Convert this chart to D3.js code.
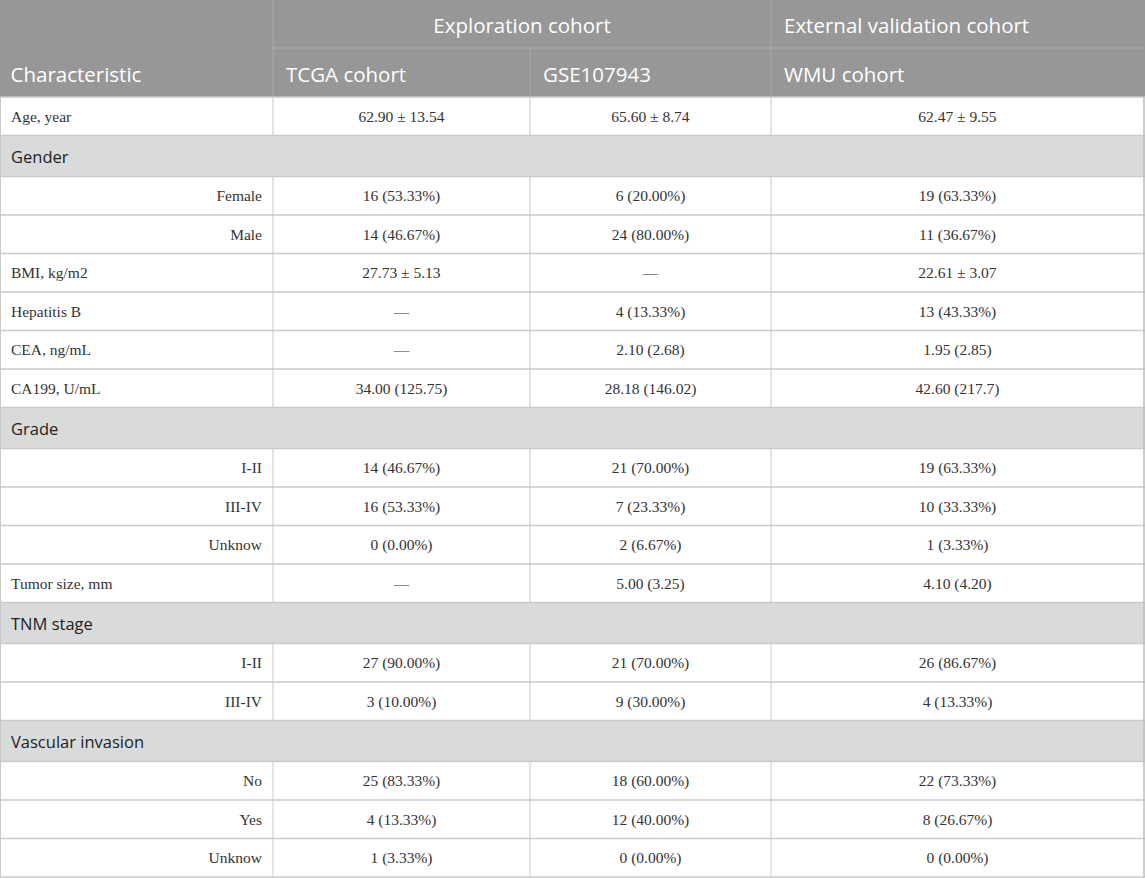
<!DOCTYPE html>
<html>
<head>
  <meta charset="utf-8">
  <script src="https://d3js.org/d3.v7.min.js"></script>
  <style>
  body { margin: 0; background: #ffffff; }
  </style>
</head>
<body>
<div id="chart"></div>
<script>
// table content
const labels = ["Age, year", "Gender", "Female", "Male", "BMI, kg/m2", "Hepatitis B", "CEA, ng/mL",
                "CA199, U/mL", "Grade", "I-II", "III-IV", "Unknow", "Tumor size, mm", "TNM stage",
                "I-II", "III-IV", "Vascular invasion", "No", "Yes", "Unknow"];
// "g" = group heading, "t" = top level item, "s" = sub item
const kinds = ["t", "g", "s", "s", "t", "t", "t", "t", "g", "s", "s", "s", "t", "g", "s", "s", "g", "s", "s", "s"];
const tcga = ["62.90 ± 13.54", "", "16 (53.33%)", "14 (46.67%)", "27.73 ± 5.13", "—", "—", "34.00 (125.75)",
              "", "14 (46.67%)", "16 (53.33%)", "0 (0.00%)", "—", "", "27 (90.00%)", "3 (10.00%)",
              "", "25 (83.33%)", "4 (13.33%)", "1 (3.33%)"];
const gse = ["65.60 ± 8.74", "", "6 (20.00%)", "24 (80.00%)", "—", "4 (13.33%)", "2.10 (2.68)", "28.18 (146.02)",
             "", "21 (70.00%)", "7 (23.33%)", "2 (6.67%)", "5.00 (3.25)", "", "21 (70.00%)", "9 (30.00%)",
             "", "18 (60.00%)", "12 (40.00%)", "0 (0.00%)"];
const wmu = ["62.47 ± 9.55", "", "19 (63.33%)", "11 (36.67%)", "22.61 ± 3.07", "13 (43.33%)", "1.95 (2.85)", "42.60 (217.7)",
             "", "19 (63.33%)", "10 (33.33%)", "1 (3.33%)", "4.10 (4.20)", "", "26 (86.67%)", "4 (13.33%)",
             "", "22 (73.33%)", "8 (26.67%)", "0 (0.00%)"];
const groupHeads = ["Exploration cohort", "External validation cohort"];
const colHeads = ["Characteristic", "TCGA cohort", "GSE107943", "WMU cohort"];

const W = 1145, H = 878;
const colEdges = [0.5, 273, 530, 771, 1144];
const headTop = 0, headMid = 48, headBottom = 97;
const rowH = { g: 41, t: 38.5, s: 38.5 };

const sans = "'Open Sans', 'Noto Sans', sans-serif";
const serif = "'Liberation Serif', 'Times New Roman', serif";
const lineColor = "#c9c9c9";

const svg = d3.select("#chart")
              .append("svg")
              .attr("width", W)
              .attr("height", H);

// row positions from cumulative heights
const heights = kinds.map(k => rowH[k]);
const tops = [0].concat(Array.from(d3.cumsum(heights)));
const y = d3.scaleLinear().domain([0, tops[tops.length - 1]]).range([headBottom, 877]);

// header
svg.append("rect")
   .attr("x", 0).attr("y", headTop)
   .attr("width", W).attr("height", headBottom)
   .attr("fill", "#979797");

svg.append("line")
   .attr("x1", colEdges[1]).attr("x2", colEdges[4])
   .attr("y1", headMid).attr("y2", headMid)
   .attr("stroke", "#a9a9a9").attr("stroke-width", 1);

[colEdges[1], colEdges[3]].forEach(function(x) {
  svg.append("line")
     .attr("x1", x).attr("x2", x)
     .attr("y1", headTop).attr("y2", headBottom)
     .attr("stroke", "#a9a9a9");
});
svg.append("line")
   .attr("x1", colEdges[2]).attr("x2", colEdges[2])
   .attr("y1", headMid).attr("y2", headBottom)
   .attr("stroke", "#a9a9a9");

svg.append("text")
   .attr("x", (colEdges[1] + colEdges[3]) / 2)
   .attr("y", headMid / 2 + 1)
   .attr("text-anchor", "middle")
   .attr("dominant-baseline", "central")
   .attr("fill", "#ffffff")
   .style("font-family", sans)
   .style("font-size", "20.5px")
   .text(groupHeads[0]);

svg.append("text")
   .attr("x", colEdges[3] + 13)
   .attr("y", headMid / 2 + 1)
   .attr("dominant-baseline", "central")
   .attr("fill", "#ffffff")
   .style("font-family", sans)
   .style("font-size", "20.5px")
   .text(groupHeads[1]);

svg.selectAll("text.colhead")
   .data(colHeads)
   .join("text")
   .attr("class", "colhead")
   .attr("x", (d, i) => colEdges[i] + (i == 0 ? 10 : 13))
   .attr("y", (headMid + headBottom) / 2 + 1)
   .attr("dominant-baseline", "central")
   .attr("fill", "#ffffff")
   .style("font-family", sans)
   .style("font-size", "20.5px")
   .text(d => d);

// body rows
const rows = svg.selectAll("g.row")
                .data(labels.map((l, i) => ({ label: l, kind: kinds[i], vals: [tcga[i], gse[i], wmu[i]], i: i })))
                .join("g")
                .attr("class", "row")
                .attr("transform", d => `translate(0,${y(tops[d.i])})`);

rows.append("rect")
    .attr("x", 0)
    .attr("width", W)
    .attr("height", d => y(tops[d.i + 1]) - y(tops[d.i]))
    .attr("fill", d => d.kind == "g" ? "#d9dbdb" : "#ffffff");

rows.append("line")
    .attr("x1", 0).attr("x2", W)
    .attr("y1", 0).attr("y2", 0)
    .attr("stroke", lineColor).attr("stroke-width", 1.5);

rows.filter(d => d.kind != "g")
    .selectAll("line.v")
    .data([colEdges[1], colEdges[2], colEdges[3]])
    .join("line")
    .attr("class", "v")
    .attr("x1", d => d).attr("x2", d => d)
    .attr("y1", 0)
    .attr("y2", function() {
      const r = d3.select(this.parentNode).datum();
      return y(tops[r.i + 1]) - y(tops[r.i]);
    })
    .attr("stroke", lineColor);

rows.append("text")
    .attr("x", d => d.kind == "s" ? colEdges[1] - 11 : 11)
    .attr("y", d => (y(tops[d.i + 1]) - y(tops[d.i])) / 2)
    .attr("text-anchor", d => d.kind == "s" ? "end" : "start")
    .attr("dominant-baseline", "central")
    .attr("fill", d => d.kind == "g" ? "#222222" : "#333333")
    .style("font-family", d => d.kind == "g" ? sans : serif)
    .style("font-size", d => d.kind == "g" ? "16.5px" : "15.5px")
    .text(d => d.label);

rows.filter(d => d.kind != "g")
    .selectAll("text.val")
    .data(d => d.vals)
    .join("text")
    .attr("class", "val")
    .attr("x", (d, j) => (colEdges[j + 1] + colEdges[j + 2]) / 2)
    .attr("y", function() {
      const r = d3.select(this.parentNode).datum();
      return (y(tops[r.i + 1]) - y(tops[r.i])) / 2;
    })
    .attr("text-anchor", "middle")
    .attr("dominant-baseline", "central")
    .attr("fill", "#333333")
    .style("font-family", serif)
    .style("font-size", "15.5px")
    .text(d => d);

// outer frame
svg.append("line")
   .attr("x1", 0).attr("x2", W).attr("y1", 877).attr("y2", 877)
   .attr("stroke", lineColor).attr("stroke-width", 1.5);
svg.append("line")
   .attr("x1", 0.5).attr("x2", 0.5).attr("y1", headBottom).attr("y2", 877)
   .attr("stroke", lineColor);
svg.append("line")
   .attr("x1", 1144).attr("x2", 1144).attr("y1", headBottom).attr("y2", 877)
   .attr("stroke", "#bdbdbd").attr("stroke-width", 1.5);
</script>
</body>
</html>
